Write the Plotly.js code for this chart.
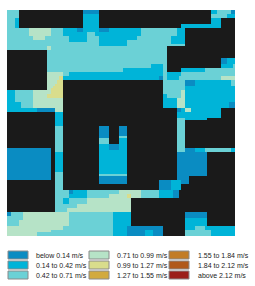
<!DOCTYPE html>
<html><head><meta charset="utf-8">
<script src="https://cdn.plot.ly/plotly-3.0.1.min.js"></script>
<style>html,body{margin:0;padding:0;background:#fff;overflow:hidden}</style>
</head><body><div id="chart" style="width:255px;height:286px"></div>
<script>
// speed class per grid cell; each entry: last row (exclusive), then "class>end column" runs; k = building
const rowBands = [
[2,"2>6 k>38 0>46 k>102 1>105 2>112 0>114"],
[4,"2>6 k>38 1>46 k>102 2>110 1>114"],
[7,"2>4 1>6 k>38 1>46 k>102 1>107 k>114"],
[9,"2>4 1>6 k>38 1>46 k>87 1>107 k>114"],
[11,"2>11 3>22 2>28 1>35 0>38 1>46 0>51 1>67 2>85 1>89 k>114"],
[13,"2>11 3>22 2>28 1>40 2>44 1>67 2>85 1>89 k>114"],
[15,"2>13 3>19 2>31 1>40 2>46 1>65 2>82 1>89 k>114"],
[16,"2>31 1>40 2>46 1>60 2>82 1>89 k>114"],
[17,"2>46 1>60 2>82 1>89 k>114"],
[18,"2>46 1>60 2>89 k>114"],
[20,"2>20 3>22 2>80 k>114"],
[24,"k>20 2>80 k>114"],
[27,"k>20 2>80 k>107 0>110 1>114"],
[29,"k>20 2>72 1>78 2>80 k>107 1>113 2>114"],
[31,"k>20 2>58 1>78 2>80 k>87 1>99 2>114"],
[33,"k>20 3>28 2>31 1>78 2>80 1>87 2>114"],
[35,"k>20 3>26 4>28 1>76 0>78 2>80 1>86 2>107 3>114"],
[37,"k>20 3>25 4>28 k>78 2>89 0>94 1>112 2>114"],
[38,"k>20 3>24 4>28 k>78 2>89 0>94 1>112 2>114"],
[39,"k>20 3>23 4>28 k>78 2>89 1>114"],
[40,"k>20 3>22 4>28 k>78 2>89 1>114"],
[42,"1>4 2>13 3>22 4>28 k>78 2>87 3>89 1>114"],
[44,"1>4 2>13 3>20 4>28 k>78 1>80 2>87 3>89 1>114"],
[46,"1>4 2>13 3>28 k>78 1>85 3>89 1>114"],
[49,"1>7 2>13 3>28 k>78 1>85 3>89 1>111 0>114"],
[51,"1>15 0>24 3>28 k>85 0>87 1>89 3>92 1>107 k>114"],
[54,"k>24 1>28 k>85 1>107 k>114"],
[55,"k>24 1>28 k>85 2>89 1>100 k>114"],
[58,"k>24 1>28 k>85 2>89 k>114"],
[63,"k>24 2>28 k>46 0>51 k>56 0>60 k>85 2>89 k>114"],
[64,"k>24 2>28 k>46 0>51 k>56 2>60 k>85 2>89 k>114"],
[67,"k>24 2>28 k>46 2>51 k>56 1>60 k>85 2>89 k>114"],
[69,"k>24 2>28 k>46 1>51 0>56 1>60 k>85 2>89 k>114"],
[70,"0>22 k>24 2>28 k>46 1>51 0>56 1>60 k>85 2>89 0>94 1>99 2>112 1>114"],
[71,"0>22 k>24 2>28 k>46 1>60 k>85 2>89 0>94 1>99 2>112 1>114"],
[81,"0>22 k>24 1>28 k>46 1>60 k>85 0>100 k>114"],
[82,"0>22 k>24 2>28 k>46 1>60 k>85 0>100 k>114"],
[83,"0>22 k>24 2>28 k>46 2>60 k>85 0>100 k>114"],
[85,"0>22 k>24 2>28 k>46 0>60 k>85 0>91 k>114"],
[87,"k>24 2>28 k>46 0>60 k>76 0>82 1>87 0>91 k>114"],
[90,"k>24 2>28 k>76 0>82 1>87 k>114"],
[92,"k>24 2>31 0>33 1>40 2>56 3>67 2>76 1>83 0>86 k>114"],
[94,"k>24 2>31 1>40 2>51 3>60 4>62 3>67 2>76 1>83 0>86 k>114"],
[97,"k>24 2>28 1>31 2>40 3>62 k>114"],
[99,"k>24 2>35 3>62 k>114"],
[101,"k>24 2>30 3>62 k>114"],
[103,"0>2 2>8 3>31 2>53 1>62 k>89 0>100 k>114"],
[104,"2>8 3>31 2>53 1>62 k>89 0>100 k>114"],
[105,"2>8 3>31 2>53 1>62 k>89 1>100 k>114"],
[108,"2>6 3>31 2>53 1>62 k>89 1>100 k>114"],
[110,"3>28 2>53 1>60 0>78 k>89 1>94 2>99 1>114"],
[111,"3>22 2>53 1>60 0>69 1>73 0>78 k>89 2>102 1>114"],
[113,"3>15 2>53 1>60 0>69 1>73 0>78 k>89 2>102 1>114"]
];
const classLabels = ["below 0.14 m/s","0.14 to 0.42 m/s","0.42 to 0.71 m/s","0.71 to 0.99 m/s","0.99 to 1.27 m/s","1.27 to 1.55 m/s","1.55 to 1.84 m/s","1.84 to 2.12 m/s","above 2.12 m/s"];
const classColors = ["#0a8cc2","#00b4d8","#6bd1d6","#b6e3c7","#d9dd8c","#d2aa3e","#c27c26","#b0591b","#9b1f1a"];
const buildingColor = "#1a1a1a";

const W = 255, H = 286;
const z = [];
let row = 0;
for (const [end, runs] of rowBands) {
  const cells = [];
  for (const run of runs.split(" ")) {
    const [cls, stop] = run.split(">");
    while (cells.length < +stop) cells.push(cls === "k" ? null : +cls);
  }
  for (; row < end; row++) z.push(cells);
}
const n = classColors.length;
const colorscale = [];
classColors.forEach((c, i) => { colorscale.push([i / n, c], [(i + 1) / n, c]); });

const shapes = [], annotations = [];
const colLeft = [8, 89, 169], textLeft = [34, 115, 196], rowTop = [251, 261, 271];
classLabels.forEach((label, i) => {
  const col = Math.floor(i / 3), r = i % 3;
  shapes.push({type: "rect", xref: "paper", yref: "paper",
    x0: colLeft[col] / W, x1: (colLeft[col] + 20) / W,
    y0: 1 - rowTop[r] / H, y1: 1 - (rowTop[r] + 8) / H,
    fillcolor: classColors[i], line: {color: "#8a8a8a", width: 1}});
  annotations.push({xref: "paper", yref: "paper", x: textLeft[col] / W, y: 1 - (rowTop[r] + 4) / H,
    xanchor: "left", yanchor: "middle", showarrow: false, text: label,
    font: {family: "Liberation Sans, Arial, sans-serif", size: 7, color: "#222"}});
});

Plotly.newPlot("chart", [{
  type: "heatmap", z, zmin: -0.5, zmax: n - 0.5, colorscale, showscale: false,
  hoverinfo: "skip", zsmooth: false
}], {
  width: W, height: H, margin: {l: 0, r: 0, t: 0, b: 0},
  paper_bgcolor: "#fff", plot_bgcolor: buildingColor, showlegend: false,
  xaxis: {domain: [7 / W, 235 / W], range: [-0.5, 113.5], visible: false, fixedrange: true},
  yaxis: {domain: [1 - 236 / H, 1 - 10 / H], range: [112.5, -0.5], visible: false, fixedrange: true},
  shapes, annotations
}, {displayModeBar: false, staticPlot: true});
</script></body></html>
